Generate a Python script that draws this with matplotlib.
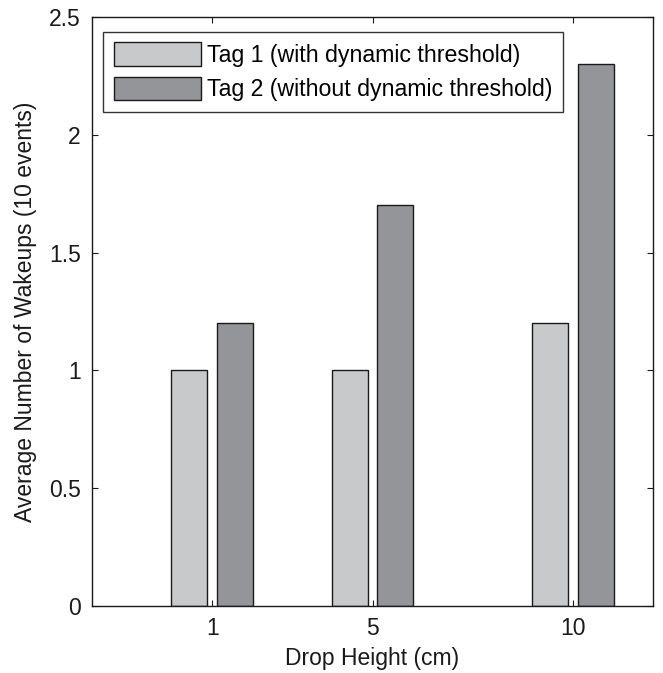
import matplotlib
matplotlib.use("Agg")
import matplotlib.pyplot as plt
import numpy as np

# values
drop_heights = [1, 5, 10]
tag1_wakeups = [1.0, 1.0, 1.2]
tag2_wakeups = [1.2, 1.7, 2.3]
series_labels = ["Tag 1 (with dynamic threshold)", "Tag 2 (without dynamic threshold)"]
y_ticks = [0, 0.5, 1, 1.5, 2, 2.5]
y_tick_labels = ["0", "0.5", "1", "1.5", "2", "2.5"]

plt.rcParams["font.family"] = ["Liberation Sans", "DejaVu Sans"]
plt.rcParams["font.size"] = 16.5

fig = plt.figure(figsize=(6.63, 6.73), dpi=100)
ax = fig.add_axes([0.1388, 0.0996, 0.8462, 0.8752])

x = np.array(drop_heights, dtype=float)
bar_w = 0.9
offset = 0.57
ax.bar(x - offset, tag1_wakeups, width=bar_w, color="#c8c9cb", edgecolor="#1a1a1a",
       linewidth=1.0, label=series_labels[0])
ax.bar(x + offset, tag2_wakeups, width=bar_w, color="#949599", edgecolor="#1a1a1a",
       linewidth=1.0, label=series_labels[1])

ax.set_xlim(-2, 12)
ax.set_ylim(0, 2.5)
ax.set_xticks(drop_heights)
ax.set_xticklabels([str(h) for h in drop_heights])
ax.set_yticks(y_ticks)
ax.set_yticklabels(y_tick_labels)
ax.tick_params(direction="in", top=True, right=True, length=4, width=0.8,
               labelsize=16.5, pad=8, colors="#1a1a1a")
for sp in ax.spines.values():
    sp.set_linewidth(1.0)
    sp.set_color("#1a1a1a")

ax.set_xlabel("Drop Height (cm)", fontsize=16.5, labelpad=5, color="#1a1a1a")
ax.set_ylabel("Average Number of Wakeups (10 events)", fontsize=16.5, labelpad=9, color="#1a1a1a")

leg = ax.legend(loc="upper left", bbox_to_anchor=(0.02, 0.975), borderaxespad=0,
                fancybox=False, framealpha=1, edgecolor="#333333", fontsize=16.7,
                handlelength=3.75, handleheight=1.2, handletextpad=0.28,
                labelspacing=0.42, borderpad=0.45)
leg.get_frame().set_linewidth(1.0)

fig.savefig("out.png", dpi=100)
